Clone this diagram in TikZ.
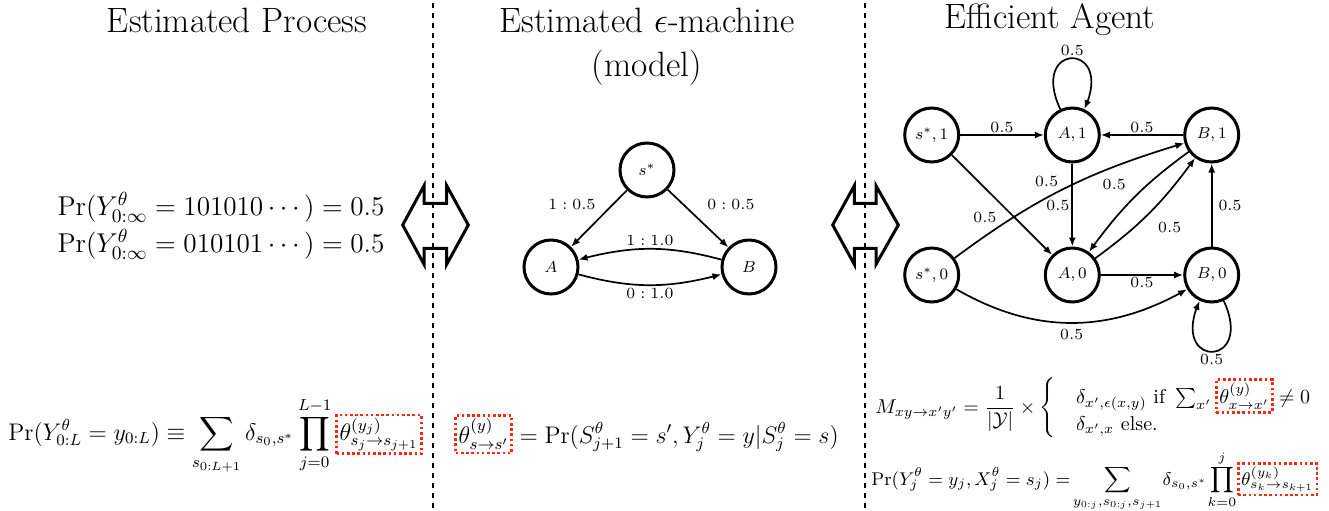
\RequirePackage{fix-cm}
\documentclass[tikz,border=0pt]{standalone}
\usepackage{amsmath}
\usetikzlibrary{arrows.meta,bending}
\definecolor{boxred}{RGB}{245,40,20}
\tikzset{
  state/.style={circle,draw,line width=1.5pt,minimum size=27pt,inner sep=0pt,font=\fontsize{8}{9.6}\selectfont},
  trans/.style={-{Latex[length=4.5pt,width=3.5pt]},line width=0.85pt},
  elabel/.style={font=\fontsize{7.8}{9}\selectfont,inner sep=1pt},
  divider/.style={line width=1.4pt,dash pattern=on 2.5pt off 2.5pt},
  dblarrow/.style={line width=1.5pt,line join=miter},
  title/.style={font=\fontsize{17.6}{21}\selectfont},
  eqA/.style={inner sep=0pt,font=\fontsize{13.6}{16}\selectfont},
  eqB/.style={inner sep=0pt,font=\fontsize{12}{14}\selectfont},
  eqC/.style={inner sep=0pt,font=\fontsize{10}{12}\selectfont},
  eqD/.style={inner sep=0pt,font=\fontsize{9.2}{11}\selectfont},
  redframe/.style={draw=boxred,line width=1.3pt,dash pattern=on 1.3pt off 1.3pt,inner sep=1.5pt}
}
\newcommand\rbox[1]{\tikz[baseline=(rbx.base)]\node[redframe](rbx){$\displaystyle #1$};}
\newcommand\sqz[2]{\makebox[#1]{$\scriptstyle #2$}}
\begin{document}
\begin{tikzpicture}[x=0.5pt,y=-0.5pt]
\useasboundingbox (0,0) rectangle (1329,510);
% dividers
\draw[divider] (433,3) -- (433,510);
\draw[divider] (865,3) -- (865,510);
% titles
\node[title] (t1) at (237,20) {Estimated Process};
\node[title] (t2) at (647,20) {Estimated $\epsilon$-machine};
\node[title] (t3) at (647,68) {(model)};
\node[title] (t4) at (1050,20) {Efficient Agent};
% double arrows
\draw[dblarrow] (402.7,225) -- (424,185.7) -- (424,203.3) -- (446.7,203.3) -- (446.7,185.7) -- (468.3,225)
  -- (446.7,264.3) -- (446.7,248.3) -- (424,248.3) -- (424,264.3) -- cycle;
\draw[dblarrow] (832.7,225) -- (854.3,185.7) -- (854.3,203.3) -- (876,203.3) -- (876,185.7) -- (898.3,225)
  -- (876,264.3) -- (876,248.3) -- (854.3,248.3) -- (854.3,264.3) -- cycle;
% left equations
\node[eqA,anchor=base] (p1) at (221,215) {$\Pr(Y^\theta_{0:\infty} = 101010\cdots) = 0.5$};
\node[eqA,anchor=base] (p2) at (221,252) {$\Pr(Y^\theta_{0:\infty} = 010101\cdots) = 0.5$};
% middle graph
\node[state] (s) at (647,170) {$s^*$};
\node[state] (A) at (551,267) {$A$};
\node[state] (B) at (749,267) {$B$};
\draw[trans] (s) -- node[elabel,shift={(-27,-14.5)}] {$1:0.5$} (A);
\draw[trans] (s) -- node[elabel,shift={(33,-14.5)}] {$0:0.5$} (B);
\draw[trans] (B) to[bend right=15] node[elabel,above] {$1:1.0$} (A);
\draw[trans] (A) to[bend right=15] node[elabel,below] {$0:1.0$} (B);
% right graph
\node[state] (s1) at (931.7,135) {$s^*,1$};
\node[state] (A1) at (1072.3,135) {$A,1$};
\node[state] (B1) at (1211.7,135) {$B,1$};
\node[state] (s0) at (931.7,275) {$s^*,0$};
\node[state] (A0) at (1072.3,275) {$A,0$};
\node[state] (B0) at (1211.7,275) {$B,0$};
\draw[trans] (A1) to[out=115,in=65,looseness=8] node[elabel,above] {$0.5$} (A1);
\draw[trans] (s1) -- node[elabel,above] {$0.5$} (A1);
\draw[trans] (B1) -- node[elabel,above] {$0.5$} (A1);
\draw[trans] (s1) -- node[elabel,shift={(-17,12)}] {$0.5$} (A0);
\draw[trans] (s0) to[bend left=10] node[elabel,shift={(-17,-7)}] {$0.5$} (B1);
\draw[trans] (A1) -- node[elabel,left] {$0.5$} (A0);
\draw[trans] (B1) to[bend right=9] node[elabel,shift={(-20,-13)}] {$0.5$} (A0);
\draw[trans] (A0) to[bend right=9] node[elabel,shift={(20,15)}] {$0.5$} (B1);
\draw[trans] (B0) -- node[elabel,right=2pt] {$0.5$} (B1);
\draw[trans] (A0) -- node[elabel,below] {$0.5$} (B0);
\draw[trans] (s0) to[bend right=30] node[elabel,below=2pt] {$0.5$} (B0);
\draw[trans] (B0) to[out=-65,in=-115,looseness=8] node[elabel,below] {$0.5$} (B0);
% bottom equations
\node[eqB,anchor=base west] (e1) at (8,440) {$\displaystyle \Pr(Y^\theta_{0:L} = y_{0:L}) \equiv \sum_{s_{0:L+1}} \delta_{s_0,s^*} \prod_{j=0}^{L-1}\rbox{\theta^{(y_j)}_{s_j\to s_{j+1}}}$};
\node[eqB,anchor=base west] (e2) at (454,443) {$\displaystyle \rbox{\theta^{(y)}_{s\to s'}} = \Pr(S^\theta_{j+1} = s', Y^\theta_j = y | S^\theta_j = s)$};
\node[eqC,anchor=base west] (e3) at (875,413) {$\displaystyle M_{xy\to x'y'} = \frac{1}{|\mathcal{Y}|}\times\left\{\enspace\begin{array}{l}\delta_{x',\epsilon(x,y)}\ \text{if}\ \sum_{x'}\rbox{\theta^{(y)}_{x\to x'}}\neq 0\\ \delta_{x',x}\ \text{else.}\end{array}\right.$};
\node[eqD,anchor=base west] (e4) at (871,485) {$\displaystyle \Pr(Y^\theta_j = y_j, X^\theta_j = s_j) = \sum_{\sqz{42pt}{y_{0:j},s_{0:j},s_{j+1}}} \delta_{s_0,s^*}\prod_{\sqz{11pt}{k=0}}^{j}\rbox{\theta^{(y_k)}_{s_k\to s_{k+1}}}$};
\end{tikzpicture}
\end{document}
